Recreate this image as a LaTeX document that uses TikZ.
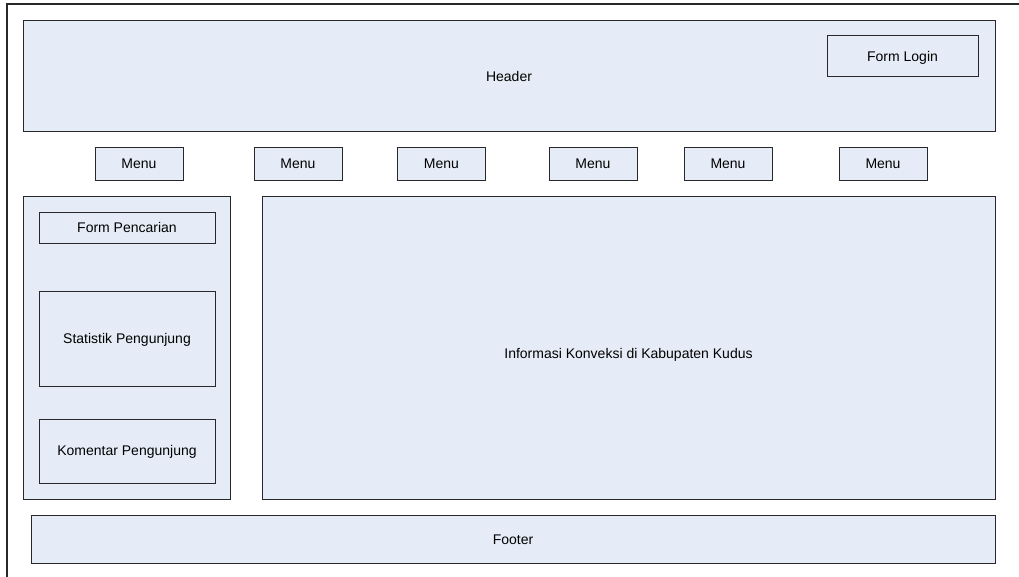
\documentclass[tikz,border=0pt]{standalone}
\usepackage{fontspec}
\setmainfont{Liberation Sans}
\usepackage{tikz}
\usetikzlibrary{shapes, positioning}
\definecolor{boxfill}{RGB}{230,236,247}
\definecolor{boxline}{RGB}{40,40,40}
\tikzstyle{box} = [rectangle, draw=boxline, fill=boxfill, line width=1pt, inner sep=0pt, font=\fontsize{14}{16}\selectfont]
\tikzstyle{menu} = [box, minimum width=88pt, minimum height=33pt]
\tikzstyle{frame} = [draw=boxline, line width=1.2pt]

\begin{document}
\begin{tikzpicture}[x=1pt, y=-1pt]
			\useasboundingbox (0, 0) rectangle (1019, 576);
			\path [frame] (7, 590) -- (7, 4) -- (1030, 4);
			
			\node [box, minimum width=972pt, minimum height=111pt, text height=12pt] (header) at (509, 75.5) {Header};
			\node [box, minimum width=151pt, minimum height=41pt, text height=15pt] (login) at (902.5, 55.5) {Form Login};
			
			\node [menu] (menu1) at (139, 163.5) {Menu};
			\node [menu] (menu2) at (298, 163.5) {Menu};
			\node [menu] (menu3) at (441.5, 163.5) {Menu};
			\node [menu] (menu4) at (593, 163.5) {Menu};
			\node [menu] (menu5) at (728, 163.5) {Menu};
			\node [menu] (menu6) at (883, 163.5) {Menu};
			
			\node [box, minimum width=207pt, minimum height=303pt] (sidebar) at (126.5, 347.5) {};
			\node [box, minimum width=176pt, minimum height=31pt] (cari) at (127, 227.5) {Form Pencarian};
			\node [box, minimum width=176pt, minimum height=95pt, text height=12pt] (statistik) at (127, 339) {Statistik Pengunjung};
			\node [box, minimum width=176pt, minimum height=64pt, text height=12pt] (komentar) at (127, 451) {Komentar Pengunjung};
			
			\node [box, minimum width=733pt, minimum height=303pt, text height=24pt] (konten) at (628.5, 347.5) {Informasi Konveksi di Kabupaten Kudus};
			\node [box, minimum width=964pt, minimum height=48pt, text height=12pt] (footer) at (513, 539) {Footer};
		\end{tikzpicture}
\end{document}
